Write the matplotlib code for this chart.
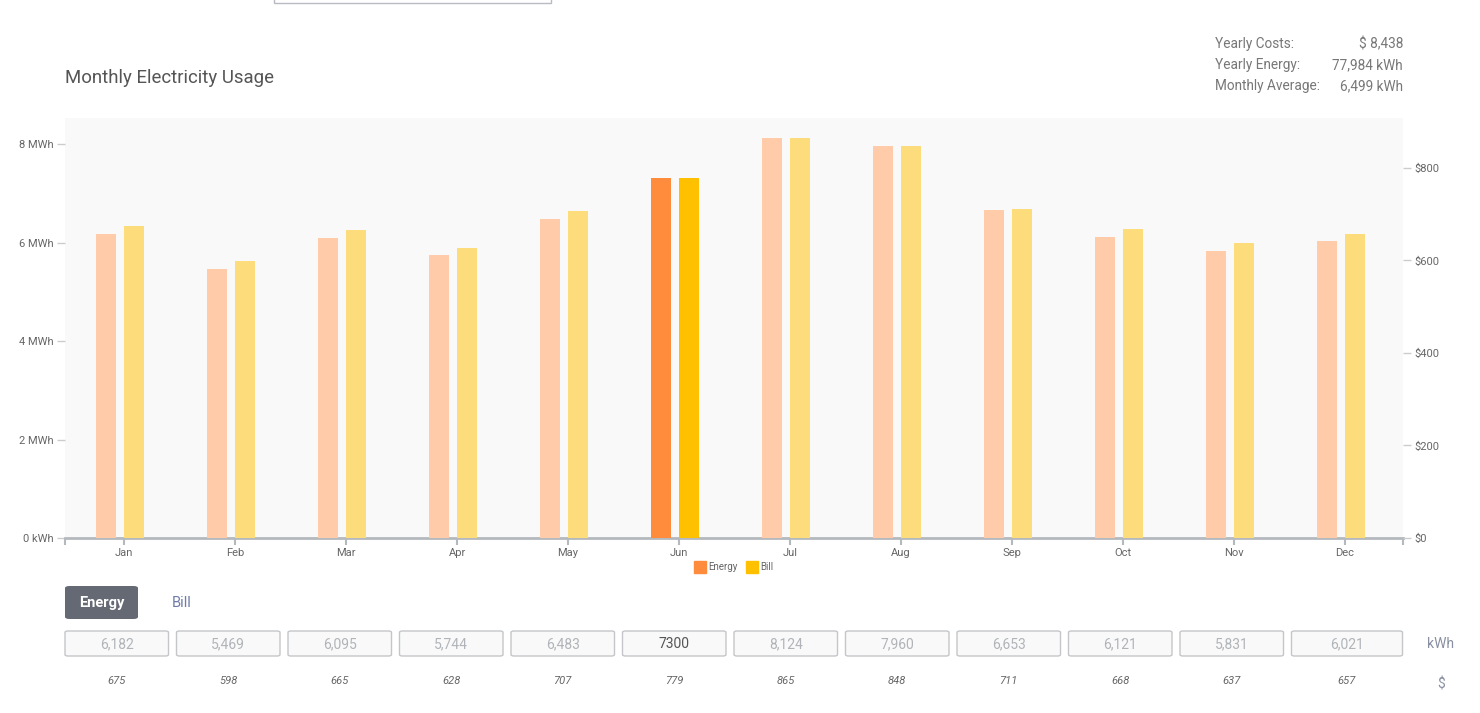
import matplotlib
matplotlib.use("Agg")
import matplotlib.pyplot as plt
from matplotlib.patches import FancyBboxPatch, Rectangle
from matplotlib.ticker import FixedLocator, FuncFormatter

plt.rcParams['font.family'] = ['Roboto', 'DejaVu Sans']

months = ['Jan', 'Feb', 'Mar', 'Apr', 'May', 'Jun',
          'Jul', 'Aug', 'Sep', 'Oct', 'Nov', 'Dec']
energy_kwh = [6182, 5469, 6095, 5744, 6483, 7300, 8124, 7960, 6653, 6121, 5831, 6021]
energy_labels = ['6,182', '5,469', '6,095', '5,744', '6,483', '7300',
                 '8,124', '7,960', '6,653', '6,121', '5,831', '6,021']
bill_usd = [675, 598, 665, 628, 707, 779, 865, 848, 711, 668, 637, 657]
selected = 5

stats_labels = ['Yearly Costs:', 'Yearly Energy:', 'Monthly Average:']
stats_values = ['$ 8,438', '77,984 kWh', '6,499 kWh']

W, H = 1480, 713
fig = plt.figure(figsize=(W / 100, H / 100), dpi=100)


def fx(x):
    return x / W


def fy(y):
    return 1 - y / H


# main plot area
ax = fig.add_axes([fx(65), fy(538), fx(1403) - fx(65), fy(118) - fy(538)])
ax.set_facecolor('#f9f9f9')
ax2 = ax.twinx()

e_col = ['#ff8c3c' if i == selected else '#ffcba8' for i in range(12)]
b_col = ['#ffc000' if i == selected else '#fddc7c' for i in range(12)]
xs = list(range(12))
ax.bar([x - 0.13 for x in xs], energy_kwh, width=0.18, color=e_col, zorder=3)
ax2.bar([x + 0.12 for x in xs], bill_usd, width=0.18, color=b_col, zorder=3)

xmax = -0.5 + 1338 / 111
ax.set_xlim(-0.5, xmax)
ax.set_ylim(0, 8528)
ax2.set_ylim(0, 908)

axis_grey = '#b4b9be'
txt_grey = '#666666'

for a in (ax, ax2):
    for s in ('top', 'left', 'right', 'bottom'):
        a.spines[s].set_visible(False)
ax.spines['bottom'].set_visible(True)
ax.spines['bottom'].set_color(axis_grey)
ax.spines['bottom'].set_linewidth(2)

ax.xaxis.set_major_locator(FixedLocator([x + 0.032 for x in xs]))
ax.set_xticklabels(months)
ax.xaxis.set_minor_locator(FixedLocator([-0.5, xmax]))
ax.tick_params(axis='x', which='both', length=5, width=1.5, color=axis_grey,
               labelsize=8, labelcolor=txt_grey, pad=2)

ax.set_yticks([0, 2000, 4000, 6000, 8000])
ax.yaxis.set_major_formatter(FuncFormatter(
    lambda v, p: '0 kWh' if v == 0 else f'{v / 1000:g} MWh'))
ax.tick_params(axis='y', length=6, width=1, color='#cccccc',
               labelsize=8, labelcolor=txt_grey, pad=2)

ax2.set_yticks([0, 200, 400, 600, 800])
ax2.yaxis.set_major_formatter(FuncFormatter(lambda v, p: f'${v:g}'))
ax2.tick_params(axis='y', length=6, width=1, color='#cccccc',
                labelsize=8, labelcolor=txt_grey, pad=2)

# legend below the axis
fig.patches.append(Rectangle((fx(694), fy(573)), fx(12), fy(561) - fy(573),
                             transform=fig.transFigure, color='#ff8c3c'))
fig.text(fx(708), fy(567), 'Energy', fontsize=7, color=txt_grey, va='center')
fig.patches.append(Rectangle((fx(746), fy(573)), fx(12), fy(561) - fy(573),
                             transform=fig.transFigure, color='#ffc000'))
fig.text(fx(760), fy(567), 'Bill', fontsize=7, color=txt_grey, va='center')

# title and summary
fig.text(fx(65), fy(78), 'Monthly Electricity Usage', fontsize=13.4,
         color='#555555', va='center')
for k, (lab, val) in enumerate(zip(stats_labels, stats_values)):
    yy = fy(44 + 21 * k)
    fig.text(fx(1215), yy, lab, fontsize=9.8, color='#777777', va='center')
    fig.text(fx(1403), yy, val, fontsize=9.8, color='#777777', va='center', ha='right')

# partial box at top
fig.patches.append(Rectangle((fx(274), fy(3)), fx(551) - fx(274), fy(-5) - fy(3),
                             transform=fig.transFigure, fill=False,
                             edgecolor='#b8bcc2', linewidth=1))

# buttons
fig.patches.append(FancyBboxPatch((fx(65), fy(619)), fx(138) - fx(65), fy(586) - fy(619),
                                  boxstyle='round,pad=0,rounding_size=0.003',
                                  transform=fig.transFigure, facecolor='#646973',
                                  edgecolor='none'))
fig.text(fx(101.5), fy(603), 'Energy', fontsize=10.5, color='white',
         fontweight='bold', ha='center', va='center')
fig.text(fx(181.5), fy(603), 'Bill', fontsize=10.5, color='#6f7ba8',
         ha='center', va='center')

# value boxes
for i in range(12):
    x0 = 65 + i * 111.5
    bw = 111 if i == 11 else 103.5
    fig.patches.append(FancyBboxPatch((fx(x0), fy(656)), fx(bw), fy(631) - fy(656),
                                      boxstyle='round,pad=0,rounding_size=0.002',
                                      transform=fig.transFigure, facecolor='#f9f9f9',
                                      edgecolor='#c4c6c9', linewidth=1))
    c = '#555555' if i == selected else '#b0b4b8'
    fig.text(fx(x0 + bw / 2), fy(644), energy_labels[i], fontsize=10, color=c,
             ha='center', va='center')
    fig.text(fx(x0 + bw / 2), fy(681), str(bill_usd[i]), fontsize=8, color='#666666',
             ha='center', va='center', style='italic')

fig.text(fx(1441), fy(644), 'kWh', fontsize=10, color='#888fa0', ha='center', va='center')
fig.text(fx(1441), fy(684), '$', fontsize=10, color='#888fa0', ha='center', va='center')

fig.savefig('out.png', dpi=100)
